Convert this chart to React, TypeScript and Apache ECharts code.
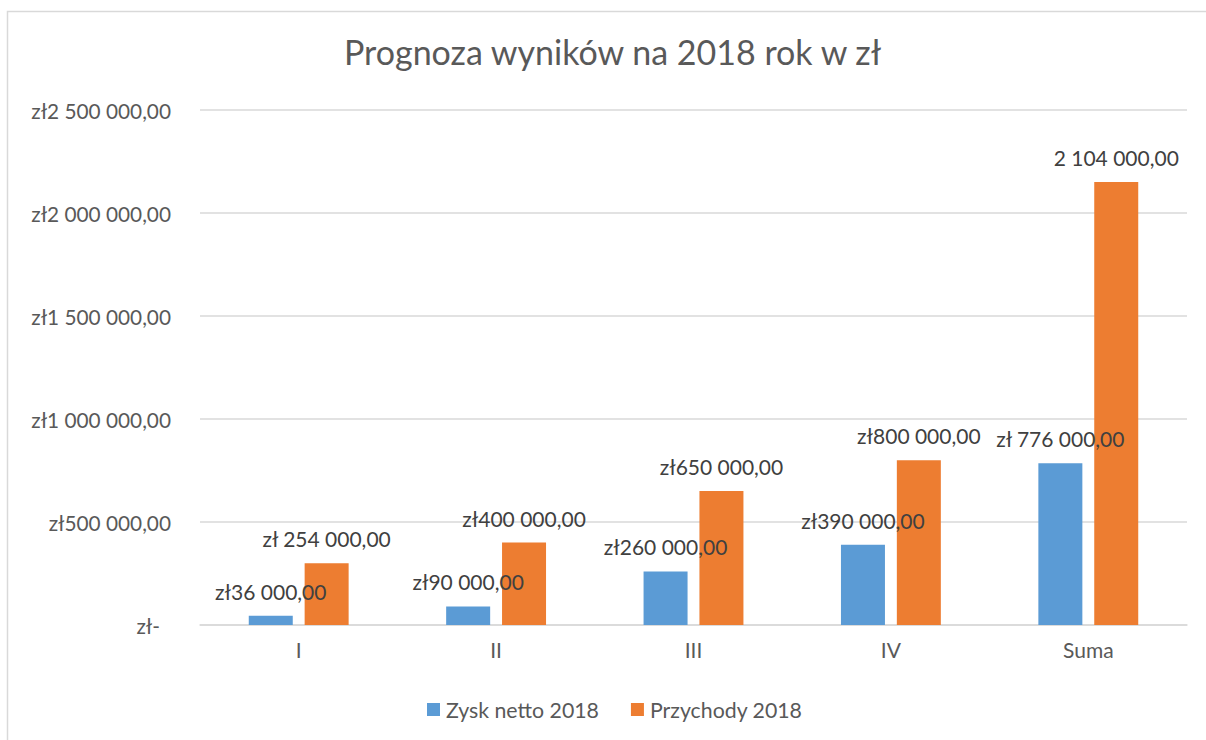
import React, { useEffect, useRef } from "react";
import * as echarts from "echarts";

const categories = ["I", "II", "III", "IV", "Suma"];
const seriesNames = ["Zysk netto 2018", "Przychody 2018"];
const zyskValues = [45000, 90000, 260000, 390000, 785000];
const przychodyValues = [300000, 400000, 650000, 800000, 2150000];
const zyskLabels = ["zł36 000,00", "zł90 000,00", "zł260 000,00", "zł390 000,00", "zł 776 000,00"];
const przychodyLabels = ["zł 254 000,00", "zł400 000,00", "zł650 000,00", "zł800 000,00", "2 104 000,00"];
const titleText = "Prognoza wyników na 2018 rok w zł";

const FONT = "Lato";
const TXT = "#595959";

function fmtAxis(v: number): string {
  if (v === 0) return "{z|zł-}";
  const s = Math.round(v).toString().replace(/\B(?=(\d{3})+(?!\d))/g, " ");
  return "zł" + s + ",00";
}

export default function App() {
  const ref = useRef<HTMLDivElement>(null);
  useEffect(() => {
    if (!ref.current) return;
    const chart = echarts.init(ref.current, null, { renderer: "svg" });
    const labelStyle = {
      show: true,
      position: "top" as const,
      distance: 14,
      color: "#404040",
      fontFamily: FONT,
      fontSize: 21,
    };
    chart.setOption({
      animation: false,
      backgroundColor: "#ffffff",
      textStyle: { fontFamily: FONT },
      title: {
        text: titleText,
        left: 344,
        top: 34,
        padding: 0,
        textStyle: { fontFamily: FONT, fontSize: 34, fontWeight: "normal", color: TXT },
      },
      graphic: [
        {
          type: "rect",
          shape: { x: 7.5, y: 11.5, width: 1220, height: 760 },
          style: { fill: "none", stroke: "#D9D9D9", lineWidth: 1.5 },
          silent: true,
        },
      ],
      legend: {
        data: seriesNames,
        bottom: 20,
        left: 427,
        padding: 0,
        itemWidth: 13,
        itemHeight: 13,
        itemGap: 32,
        icon: "rect",
        textStyle: { fontFamily: FONT, fontSize: 21.3, color: TXT, padding: [0, 0, 0, 1] },
      },
      grid: { left: 200, right: 19, top: 110, bottom: 115, containLabel: false },
      xAxis: {
        type: "category",
        data: categories,
        axisLine: { lineStyle: { color: "#D9D9D9", width: 1.5 } },
        axisTick: { show: false },
        axisLabel: { color: TXT, fontFamily: FONT, fontSize: 21, margin: 14 },
      },
      yAxis: {
        type: "value",
        min: 0,
        max: 2500000,
        interval: 500000,
        axisLine: { show: false },
        axisTick: { show: false },
        splitLine: { lineStyle: { color: "#D9D9D9", width: 1.5 } },
        axisLabel: {
          color: TXT,
          fontFamily: FONT,
          fontSize: 20.8,
          margin: 29,
          formatter: fmtAxis,
          rich: { z: { color: TXT, fontFamily: FONT, fontSize: 20.8, padding: [0, 11, 0, 0] } },
        },
      },
      series: [
        {
          name: seriesNames[0],
          type: "bar",
          data: zyskValues,
          barWidth: 44,
          barGap: "27%",
          itemStyle: { color: "#5B9BD5" },
          label: { ...labelStyle, formatter: (p: any) => zyskLabels[p.dataIndex] },
        },
        {
          name: seriesNames[1],
          type: "bar",
          data: przychodyValues,
          barWidth: 44,
          itemStyle: { color: "#ED7D31" },
          label: { ...labelStyle, formatter: (p: any) => przychodyLabels[p.dataIndex] },
        },
      ],
    });
    return () => chart.dispose();
  }, []);
  return (
    <div
      ref={ref}
      style={{ position: "fixed", left: 0, top: 0, width: 1206, height: 740 }}
    />
  );
}
